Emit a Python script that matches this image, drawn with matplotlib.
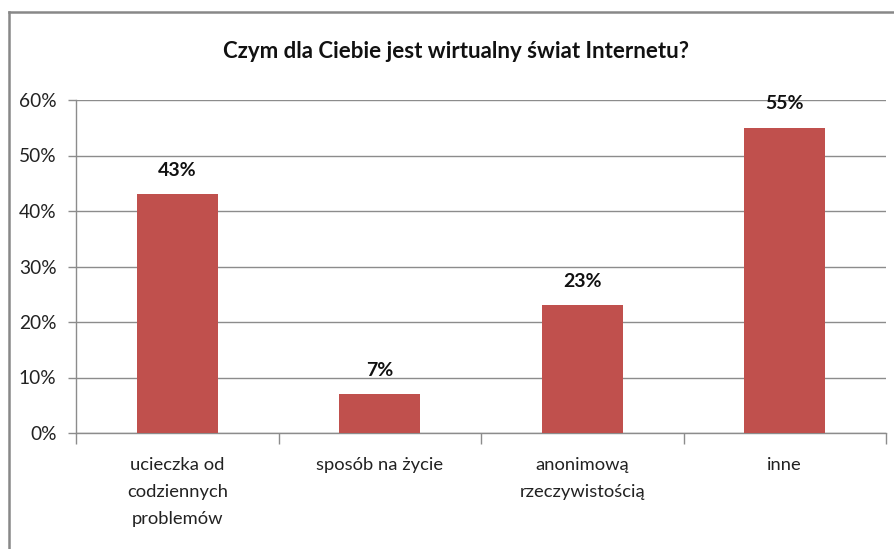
import matplotlib
matplotlib.use("Agg")
import matplotlib.pyplot as plt
from matplotlib.lines import Line2D
from matplotlib.ticker import FuncFormatter, FixedLocator

categories = ["ucieczka od\ncodziennych\nproblemów", "sposób na życie", "anonimową\nrzeczywistością", "inne"]
values = [43, 7, 23, 55]
value_labels = ["43%", "7%", "23%", "55%"]
title = "Czym dla Ciebie jest wirtualny świat Internetu?"

plt.rcParams['font.family'] = ['Lato', 'DejaVu Sans']

W, H = 895, 549
fig = plt.figure(figsize=(W / 100, H / 100), dpi=100)
fig.patch.set_facecolor("white")

# plot area in pixels
left, right, top, bottom = 76, 886, 100, 433
ax = fig.add_axes([left / W, 1 - bottom / H, (right - left) / W, (bottom - top) / H])

x = list(range(len(categories)))
ax.bar(x, values, width=0.4, color="#C0504D", zorder=3)
ax.set_xlim(-0.5, len(categories) - 0.5)
ax.set_ylim(0, 60)
ax.set_yticks(range(0, 61, 10))
ax.yaxis.set_major_formatter(FuncFormatter(lambda v, p: f"{int(v)}%"))
ax.grid(axis="y", color="#8C8C8C", linewidth=1, zorder=0)

ax.set_xticks(x)
ax.set_xticklabels(categories, fontsize=13.2, color="#222222", linespacing=1.85, va="top")
ax.tick_params(axis="x", length=0, pad=17)
ax.xaxis.set_minor_locator(FixedLocator([i - 0.5 for i in range(len(categories) + 1)]))
ax.tick_params(axis="x", which="minor", length=8, color="#8C8C8C", width=1)
ax.tick_params(axis="y", length=6, color="#8C8C8C", width=1, labelsize=13.8, labelcolor="#222222", pad=8)

for s in ["top", "right"]:
    ax.spines[s].set_visible(False)
for s in ["left", "bottom"]:
    ax.spines[s].set_color("#8C8C8C")
    ax.spines[s].set_linewidth(1)

for xi, v, lab in zip(x, values, value_labels):
    ax.annotate(lab, (xi, v), xytext=(0, 11), textcoords="offset points",
                ha="center", va="bottom", fontsize=14, fontweight="bold", color="#111111")

fig.text(456 / W, 1 - 52 / H, title, ha="center", va="center",
         fontsize=16, fontweight="bold", color="#111111")

# outer chart border (left and top)
fig.add_artist(Line2D([9 / W, 9 / W], [0, 1 - 12 / H], transform=fig.transFigure,
                      color="#888888", linewidth=1.8))
fig.add_artist(Line2D([9 / W, 1], [1 - 12 / H, 1 - 12 / H], transform=fig.transFigure,
                      color="#888888", linewidth=1.8))

fig.savefig("out.png", dpi=100, facecolor="white")
